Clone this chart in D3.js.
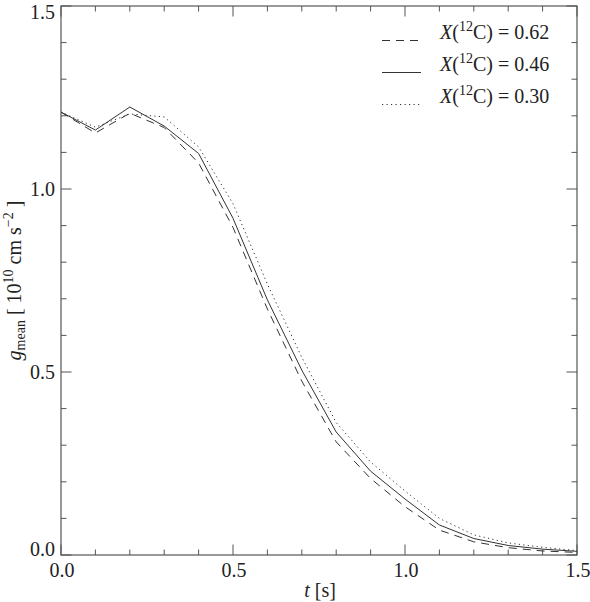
<!DOCTYPE html>
<html>
<head>
<meta charset="utf-8">
<script src="https://d3js.org/d3.v7.min.js"></script>
<style>
    body { margin: 0; background: #fff; }
</style>
</head>
<body>
<div id="chart"></div>
<script>
// time samples [s]
const times = [0.0, 0.1, 0.2, 0.3, 0.4, 0.5, 0.6, 0.7, 0.8, 0.9, 1.0, 1.1, 1.2, 1.3, 1.4, 1.5];

// g_mean [1e10 cm s^-2] for each carbon fraction
const gC062 = [1.210, 1.153, 1.207, 1.168, 1.071, 0.895, 0.672, 0.475, 0.309, 0.209, 0.132, 0.068, 0.036, 0.020, 0.011, 0.007];
const gC046 = [1.210, 1.161, 1.224, 1.172, 1.097, 0.920, 0.697, 0.505, 0.336, 0.229, 0.153, 0.082, 0.045, 0.026, 0.016, 0.010];
const gC030 = [1.210, 1.169, 1.205, 1.197, 1.115, 0.960, 0.740, 0.540, 0.362, 0.254, 0.175, 0.100, 0.055, 0.033, 0.021, 0.012];

const seriesLabels = ["0.62", "0.46", "0.30"];
const seriesDash = ["8,6", null, "1.2,3.3"];

const majorTicks = [0.0, 0.5, 1.0, 1.5];
const minorTicks = d3.range(0, 1.501, 0.1).filter(v => Math.abs(v * 2 - Math.round(v * 2)) > 1e-6);

const width = 590, height = 602;
const margin = { top: 6, right: 13, bottom: 47, left: 61 };
const serif = "'Liberation Serif', 'Times New Roman', Times, serif";

const svg = d3.select("#chart").append("svg")
    .attr("width", width)
    .attr("height", height)
    .attr("font-family", serif);

const x = d3.scaleLinear().domain([0, 1.5]).range([margin.left, width - margin.right]);
const y = d3.scaleLinear().domain([0, 1.5]).range([height - margin.bottom, margin.top]);

const axisColor = "#555";
const lineColor = "#333";
const textColor = "#222";

// frame
svg.append("rect")
    .attr("x", x(0)).attr("y", y(1.5))
    .attr("width", x(1.5) - x(0)).attr("height", y(0) - y(1.5))
    .attr("fill", "none").attr("stroke", axisColor).attr("stroke-width", 1.2);

// ticks on all four sides, pointing inward
const majorLen = 10.5, minorLen = 5.5;
function drawTicks(values, len) {
    values.forEach(v => {
        svg.append("line").attr("x1", x(v)).attr("x2", x(v)).attr("y1", y(0)).attr("y2", y(0) - len)
            .attr("stroke", axisColor);
        svg.append("line").attr("x1", x(v)).attr("x2", x(v)).attr("y1", y(1.5)).attr("y2", y(1.5) + len)
            .attr("stroke", axisColor);
        svg.append("line").attr("y1", y(v)).attr("y2", y(v)).attr("x1", x(0)).attr("x2", x(0) + len)
            .attr("stroke", axisColor);
        svg.append("line").attr("y1", y(v)).attr("y2", y(v)).attr("x1", x(1.5)).attr("x2", x(1.5) - len)
            .attr("stroke", axisColor);
    });
}
drawTicks(majorTicks, majorLen);
drawTicks(minorTicks, minorLen);

// x tick labels
svg.append("g").selectAll("text")
    .data(majorTicks)
    .enter().append("text")
    .attr("x", d => x(d) + 1)
    .attr("y", 577)
    .attr("text-anchor", "middle")
    .attr("font-size", 20)
    .attr("fill", textColor)
    .text(d => d.toFixed(1));

// y tick labels (end labels kept inside the frame height, like IDL does)
svg.append("g").selectAll("text")
    .data(majorTicks)
    .enter().append("text")
    .attr("x", 55)
    .attr("y", d => d === 1.5 ? y(d) + 13 : d === 0 ? y(d) + 1 : y(d) + 7)
    .attr("text-anchor", "end")
    .attr("font-size", 20)
    .attr("fill", textColor)
    .text(d => d.toFixed(1));

// x axis title
const xt = svg.append("text")
    .attr("x", 320).attr("y", 597)
    .attr("text-anchor", "middle")
    .attr("font-size", 20)
    .attr("fill", textColor);
xt.append("tspan").attr("font-style", "italic").text("t");
xt.append("tspan").text(" [s]");

// y axis title
const yt = svg.append("text")
    .attr("transform", `translate(21,${(y(0) + y(1.5)) / 2}) rotate(-90)`)
    .attr("text-anchor", "middle")
    .attr("font-size", 20)
    .attr("fill", textColor);
yt.append("tspan").attr("font-style", "italic").text("g");
yt.append("tspan").attr("font-size", 14).attr("dy", 4).text("mean");
yt.append("tspan").attr("dy", -4).text(" [ 10");
yt.append("tspan").attr("font-size", 14).attr("dy", -8).text("10");
yt.append("tspan").attr("dy", 8).text(" cm s");
yt.append("tspan").attr("font-size", 14).attr("dy", -8).text("\u22122");
yt.append("tspan").attr("dy", 8).text(" ]");

// curves
const line = d3.line()
    .x((d, i) => x(times[i]))
    .y(d => y(d));

[gC062, gC046, gC030].forEach((vals, i) => {
    svg.append("path")
        .datum(vals)
        .attr("fill", "none")
        .attr("stroke", lineColor)
        .attr("stroke-width", 1)
        .attr("stroke-dasharray", seriesDash[i])
        .attr("d", line);
});

// legend
const legendY = [40, 72, 104];
seriesLabels.forEach((lab, i) => {
    svg.append("line")
        .attr("x1", 382).attr("x2", 421)
        .attr("y1", legendY[i] + 0.5).attr("y2", legendY[i] + 0.5)
        .attr("stroke", lineColor)
        .attr("stroke-width", 1)
        .attr("stroke-dasharray", seriesDash[i]);
    const t = svg.append("text")
        .attr("x", 440).attr("y", legendY[i] - 1)
        .attr("font-size", 20)
        .attr("fill", textColor);
    t.append("tspan").attr("font-style", "italic").text("X");
    t.append("tspan").text("(");
    t.append("tspan").attr("font-size", 14).attr("dy", -8).text("12");
    t.append("tspan").attr("dy", 8).text("C) = " + lab);
});
</script>
</body>
</html>
